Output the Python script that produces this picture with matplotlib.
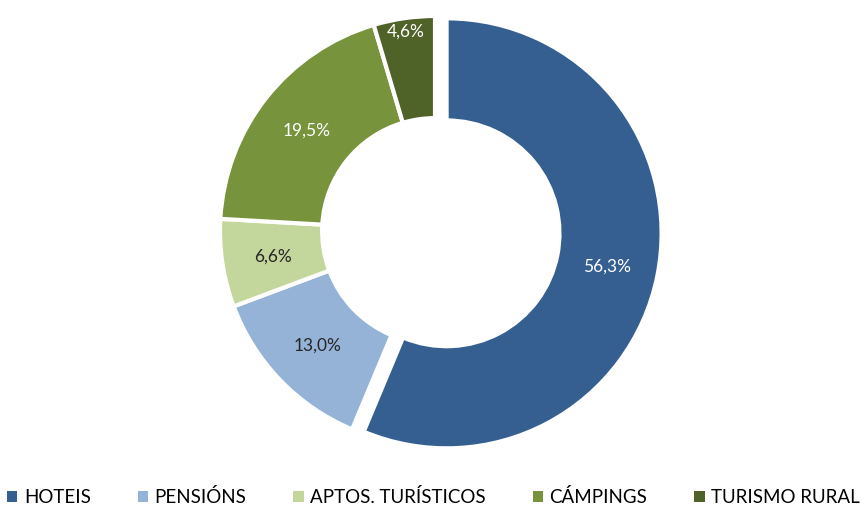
import numpy as np
import matplotlib.pyplot as plt

# %% Data.
categories = ['HOTEIS', 'PENSIÓNS', 'APTOS. TURÍSTICOS', 'CÁMPINGS', 'TURISMO RURAL']
shares = [56.3, 13.0, 6.6, 19.5, 4.6]
colors = ['#355F91', '#95B3D7', '#C3D69B', '#77933C', '#4F6228']
label_colors = ['white', '#262626', '#262626', 'white', 'white']

plt.rcParams['font.family'] = ['Lato', 'DejaVu Sans']

# %% Figure.
fig = plt.figure(figsize=(8.67, 5.10), dpi=100)
# centre at (435, 232) px, radius 215 px
R = 215.
lim = 1.1
w = 2 * lim * R
ax = fig.add_axes([(435 - w / 2) / 867, (510 - 232 - w / 2) / 510, w / 867, w / 510])

wedges, texts, autotexts = ax.pie(
    shares, colors=colors, startangle=90, counterclock=False,
    explode=[0.055, 0, 0, 0, 0],
    wedgeprops=dict(width=0.475, edgecolor='white', linewidth=3),
    autopct=lambda p: '{:.1f}%'.format(p).replace('.', ','),
    pctdistance=0.76, textprops=dict(fontsize=12.5))
for t, c in zip(autotexts, label_colors):
    t.set_color(c)

# Narrow last wedge: label pushed towards the outer rim.
ang = np.deg2rad((wedges[-1].theta1 + wedges[-1].theta2) / 2)
autotexts[-1].set_position((0.94 * np.cos(ang), 0.94 * np.sin(ang)))

ax.set_xlim(-lim, lim)
ax.set_ylim(-lim, lim)
ax.set_aspect('equal')
ax.axis('off')

# Legend:
leg = fig.legend(wedges, categories, loc='lower center', bbox_to_anchor=(0.5, -0.025),
                 ncol=5, frameon=False, fontsize=13.5, handlelength=0.6,
                 handleheight=0.6, handletextpad=0.3, columnspacing=2.5)
for h in leg.legend_handles:
    h.set_linewidth(0)
    h.set_height(7.5)
    h.set_width(7.5)
    h.set_y(0)

fig.savefig('out.png', dpi=100)
